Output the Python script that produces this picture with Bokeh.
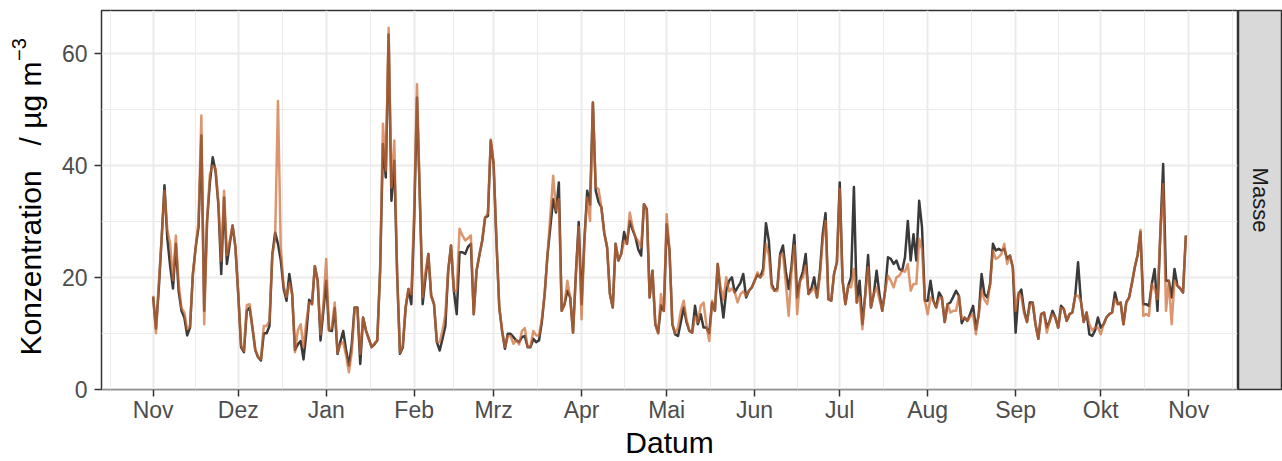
import numpy as np
import pandas as pd
from bokeh.plotting import figure
from bokeh.models import ColumnDataSource, FixedTicker, Range1d
from bokeh.layouts import row
from bokeh.core.properties import value
from bokeh.embed import file_html
from bokeh.resources import INLINE

# Daily mass concentrations (µg m^-3), Nov 2017 - Oct 2018, one list per month.
ref_nov = [16.5, 10.8, 18, 27, 36.5, 27, 22, 18, 26, 17.5, 14, 12.8, 9.6, 11, 20.5, 25.4, 29, 45.4, 14, 30,
           37, 41.5, 39, 33, 20.6, 34.3, 22.4, 26, 29.3, 25.4]
ref_dez = [17, 7.5, 6.6, 14, 14.6, 11, 7, 5.7, 5.1, 10, 10, 11.3, 24, 28, 26, 23, 18, 15.8, 20.6, 17,
           7, 8, 8.6, 5.3, 10, 16, 15.2, 22, 19.4, 8.7, 14]
ref_jan = [19.4, 10.5, 10.4, 14.5, 6.3, 8.5, 10.4, 7, 4.2, 8, 14.6, 14.6, 4.5, 12.8, 10.5, 9, 7.5, 8, 8.7, 21.2,
           43.9, 37.9, 63.5, 33.7, 40.9, 20.6, 6.3, 7.5, 14.6, 17.9, 15.2]
ref_feb = [30, 52.2, 34.3, 15.2, 20, 24.2, 16.7, 15.2, 8.4, 6.9, 9, 11.3, 21.2, 25.7, 17.6, 13.4, 24.5, 24.5, 24.2, 25.5,
           26, 13.4, 21.2, 24, 26.6, 30.7, 31, 44.5]
ref_mrz = [40.3, 26.6, 14.6, 10.4, 7.2, 9.9, 9.9, 9.3, 8.7, 8.4, 9.3, 9.5, 7.5, 7.5, 9.0, 8.4, 8.7, 12, 17, 24,
           29, 34, 31.6, 37, 14, 15.2, 17.6, 16.4, 10.1, 20.6, 29.9]
ref_apr = [15.2, 26.6, 35.5, 33, 51.3, 35.5, 33.5, 32.5, 28, 25.4, 17, 14.6, 26, 23, 24.2, 28.1, 26, 30.1, 28.5, 27.2,
           25, 23.9, 33.1, 32.2, 16.4, 21.2, 11.6, 10.1, 15, 14]
ref_mai = [29.5, 24.8, 11.6, 9.8, 9.5, 12, 14.6, 12, 10.4, 10.1, 14.9, 11.6, 13.4, 11, 11, 10, 15.5, 14, 22.4, 17,
           12.8, 17.6, 19.4, 20, 17.3, 18.2, 19, 20.6, 16.4, 17.6, 18.2]
ref_jun = [19.4, 20.5, 20, 21.5, 29.7, 26.6, 18.8, 17.6, 18, 24.2, 25.7, 21, 17.9, 22, 27.6, 16.4, 19.4, 21, 24.2, 17,
           18, 20, 16.4, 21, 27.7, 31.5, 16.1, 15.8, 20.6, 22.7]
ref_jul = [37, 19.4, 15.2, 18.5, 20, 36.2, 15.5, 19.4, 11.6, 17, 24, 14.6, 17, 21.2, 17, 14, 17.6, 23.6, 23.3, 22.4,
           23, 21.5, 21.2, 23.6, 30.1, 23, 27.7, 23, 33.7, 29, 15.8]
ref_aug = [15.8, 19.4, 15.8, 14.6, 17.3, 16.4, 12, 15.2, 15.5, 16.5, 17.6, 16.7, 11.8, 12.8, 12.2, 13.5, 14.9, 10.7,
           13.4, 20.6, 17, 16.4, 18.8, 26, 24.8, 25.1, 24.8, 25.1, 23.3, 23.9, 21.8]
ref_sep = [10.1, 17, 17.8, 14, 12, 15.5, 15.5, 11.6, 9, 13.4, 13.7, 11, 12.2, 14, 12.8, 11, 14.9, 14.3, 12.2, 13.4,
           13.7, 16.7, 22.7, 15.8, 12, 13.7, 9.8, 9.5, 10.5, 12.8]
ref_okt = [11, 11.6, 12.8, 13.4, 13.7, 17.3, 15.2, 15.5, 11.6, 15.5, 16.4, 19, 21.8, 24, 28.1, 15.2, 15.2, 14.9, 18.8,
           21.5, 14, 27.8, 40.3, 19.4, 19.4, 16.4, 21.5, 18.5, 18, 17.3, 27.5]

alt_nov = [16.7, 10.0, 19, 27, 35.5, 28.5, 26, 19.5, 27.5, 18.8, 14.5, 13.7, 10.7, 11.2, 20.6, 25.4, 30, 49, 11.6, 30,
           38.5, 40, 39.5, 33.5, 23, 35.5, 24, 26.5, 29.3, 25.4]
alt_dez = [17, 7.8, 6.8, 15, 15.2, 11, 7, 5.8, 5.3, 11.3, 11.3, 12.2, 24, 27, 51.6, 25, 18.5, 16.5, 19, 17,
           6.6, 10.5, 11.6, 7.5, 12, 15.5, 15.2, 22, 19.4, 9.8, 15]
alt_jan = [23.3, 10.5, 11, 15.5, 6.5, 8, 8.4, 6, 3.0, 6.5, 14.6, 14.5, 6.3, 12.8, 10.5, 9, 7.5, 8.2, 8.7, 21.2,
           47.5, 39.1, 64.7, 36.1, 44.5, 20.6, 6.5, 7.8, 14.6, 17.9, 17]
alt_feb = [32, 54.6, 34.3, 16.4, 21, 24.2, 16.7, 15.2, 8.4, 8.4, 10.5, 13.4, 21.2, 25.7, 17.6, 17.6, 28.7, 27.5, 26.6,
           27, 27.5, 13.4, 21.2, 24, 26.6, 30.7, 31.5, 44.7]
alt_mrz = [40.5, 26.6, 14.6, 10.4, 7.5, 9.5, 9.5, 8.1, 8.8, 8.0, 10.4, 10.9, 7.5, 7.6, 10.4, 9.6, 9.6, 12.5, 17, 24,
           31, 38.2, 32, 34, 14, 15.2, 19.4, 16.4, 10.1, 20.6, 29]
alt_apr = [12.5, 26.6, 34.3, 30.1, 51.3, 36.1, 35.8, 32.5, 28, 25.4, 17, 14.6, 26, 23, 24.2, 26.6, 26, 31.6, 29, 27.2,
           26.5, 25.4, 33.1, 32.2, 16.4, 21.2, 11.6, 9.9, 17, 14]
alt_mai = [31.3, 24.8, 11.6, 10, 11, 14, 15.8, 12.5, 10.4, 10.1, 13, 12, 14.9, 15.5, 11.5, 8.6, 15.8, 14, 22.4, 18.2,
           16, 20, 17.5, 18, 17.3, 15.5, 17, 17.5, 16.7, 17.6, 18.2]
alt_jun = [19.4, 20.9, 20, 20.5, 26, 24, 18.2, 17.6, 17.5, 23.9, 24.2, 19, 13.1, 21, 25.7, 13.4, 19.4, 20, 22.1, 17,
           17.5, 18.2, 16.4, 20, 26.6, 30.1, 16.1, 15.8, 20.6, 22.7]
alt_jul = [35.8, 19.4, 15.2, 18.5, 18.2, 21.5, 15.5, 16.4, 10.7, 17, 21.8, 14.6, 17, 18.2, 16, 14, 17.6, 20.3, 19.4,
           18.2, 20, 20.3, 21.2, 21, 22.4, 17.6, 18.8, 18.8, 26.9, 25, 15.8]
alt_aug = [13.4, 16.4, 15.8, 14.6, 16.1, 16.4, 12, 15.2, 13.7, 14, 14, 16.7, 12.5, 12.8, 12.2, 13, 13.4, 9.8, 13.4,
           17.6, 16, 15.2, 18.8, 24.8, 23.3, 23.6, 24.2, 26, 22.4, 23.9, 21.8]
alt_sep = [14, 17.3, 16.5, 13.5, 12, 15, 15.5, 11.6, 9, 13.4, 13.7, 10.1, 12.2, 13.4, 12.8, 11, 14.5, 14.3, 12.2, 13.4,
           13.7, 16.7, 16.7, 15.8, 12, 13.7, 11.6, 10.5, 11, 11]
alt_okt = [9.8, 11.6, 12.8, 13.4, 13.7, 16.1, 15.2, 15.5, 11.6, 15.5, 16.4, 19, 21.8, 24, 28.5, 13.1, 13.4, 13.1, 18.8,
           17.9, 16.1, 27.8, 36.7, 14, 19.4, 11.6, 19.4, 18.5, 18, 17.3, 27.5]

month_labels = ["Nov", "Dez", "Jan", "Feb", "Mrz", "Apr", "Mai", "Jun", "Jul", "Aug", "Sep", "Okt", "Nov"]
y_ticks = [0, 20, 40, 60]
y_minor = [10, 30, 50]
facet = ["Masse"]
x_title = "Datum"
NBSP = "\u00a0"
y_title = ["Konzentration" + NBSP * 3 + "/" + NBSP + "µg" + NBSP + "m"]
y_title_sup = ["\u22123"]

ref = (ref_nov + ref_dez + ref_jan + ref_feb + ref_mrz + ref_apr + ref_mai + ref_jun +
       ref_jul + ref_aug + ref_sep + ref_okt)
alt = (alt_nov + alt_dez + alt_jan + alt_feb + alt_mrz + alt_apr + alt_mai + alt_jun +
       alt_jul + alt_aug + alt_sep + alt_okt)

dates = pd.date_range("2017-11-01", periods=len(ref), freq="D")
src = ColumnDataSource(dict(datum=dates, ref=ref, alt=alt))


def to_ms(ts):
    return (pd.Timestamp(ts) - pd.Timestamp("1970-01-01")) / pd.Timedelta("1ms")


month_starts = pd.date_range("2017-11-01", periods=len(month_labels), freq="MS")
month_ms = [to_ms(t) for t in month_starts]
ext = [month_ms[0] - (month_ms[1] - month_ms[0])] + month_ms + [month_ms[-1] + (month_ms[-1] - month_ms[-2])]
minor_ms = [(a + b) / 2 for a, b in zip(ext[:-1], ext[1:])]

# 5 % expansion of both ranges
x_lo, x_hi = to_ms(dates[0]), to_ms(dates[-1])
x_pad = 0.05 * (x_hi - x_lo)
all_vals = np.array(ref + alt)
y_lo, y_hi = all_vals.min(), all_vals.max()
y_pad = 0.05 * (y_hi - y_lo)

FONT = "Liberation Sans"
BORDER = "#333333"
GRID = "#EBEBEB"
H = 461
TOP, BOTTOM = 10, 72

# y-axis title column (title plus superscript exponent); its frame shares the
# panel's vertical extent, and its y range is expressed as canvas pixels from the bottom
t = figure(width=52, height=H, output_backend="svg", toolbar_location=None,
           x_range=Range1d(0, 52), y_range=Range1d(BOTTOM, H - TOP),
           x_axis_location=None, y_axis_location=None,
           min_border_left=0, min_border_right=0, min_border_top=TOP, min_border_bottom=BOTTOM)
t.grid.visible = False
t.outline_line_color = None
t.background_fill_color = "white"
t.border_fill_color = "white"
t.text(x=[30], y=[H - 208], text=y_title, angle=np.pi / 2, text_align="center", text_baseline="middle",
       text_font=value(FONT), text_font_size="30px", text_color="black")
t.text(x=[18], y=[H - 49], text=y_title_sup, angle=np.pi / 2, text_align="center", text_baseline="middle",
       text_font=value(FONT), text_font_size="20px", text_color="black")

p = figure(width=1186, height=H, x_axis_type="datetime", output_backend="svg", toolbar_location=None,
           x_range=Range1d(x_lo - x_pad, x_hi + x_pad), y_range=Range1d(y_lo - y_pad, y_hi + y_pad),
           min_border_left=49, min_border_right=1, min_border_top=TOP, min_border_bottom=BOTTOM)
p.background_fill_color = "white"
p.border_fill_color = "white"
p.outline_line_color = BORDER
p.outline_line_width = 1.5

xticker = FixedTicker(ticks=month_ms, minor_ticks=minor_ms)
yticker = FixedTicker(ticks=y_ticks, minor_ticks=y_minor)
p.xaxis[0].ticker = xticker
p.yaxis[0].ticker = yticker
p.xgrid[0].ticker = xticker
p.ygrid[0].ticker = yticker
p.xaxis[0].major_label_overrides = {m: lab for m, lab in zip(month_ms, month_labels)}

for g in (p.xgrid[0], p.ygrid[0]):
    g.grid_line_color = GRID
    g.grid_line_width = 2
    g.minor_grid_line_color = GRID
    g.minor_grid_line_width = 1

for ax in (p.xaxis[0], p.yaxis[0]):
    ax.axis_line_color = None
    ax.major_tick_line_color = BORDER
    ax.major_tick_line_width = 1.5
    ax.major_tick_out = 7
    ax.major_tick_in = 0
    ax.minor_tick_line_color = None
    ax.major_label_text_font = FONT
    ax.major_label_text_font_size = "23px"
    ax.major_label_text_color = "#4D4D4D"
    ax.axis_label_text_font = FONT
    ax.axis_label_text_font_size = "30px"
    ax.axis_label_text_font_style = "normal"
    ax.axis_label_text_color = "black"

p.xaxis[0].axis_label = x_title
p.xaxis[0].major_label_standoff = 0
p.xaxis[0].axis_label_standoff = 0
p.yaxis[0].major_label_standoff = 7

p.line("datum", "ref", source=src, line_color="#3A3A3A", line_width=2.5, line_join="round")
p.line("datum", "alt", source=src, line_color="#CD6A32", line_alpha=0.7, line_width=2.5, line_join="round")

# facet strip on the right
s = figure(width=44, height=H, output_backend="svg", toolbar_location=None,
           x_range=Range1d(0, 1), y_range=Range1d(0, 1), x_axis_location=None, y_axis_location=None,
           min_border_left=0, min_border_right=0, min_border_top=TOP, min_border_bottom=BOTTOM)
s.grid.visible = False
s.background_fill_color = "#D9D9D9"
s.border_fill_color = "white"
s.outline_line_color = BORDER
s.outline_line_width = 1.5
s.text(x=[0.5], y=[0.5], text=facet, angle=-np.pi / 2, text_align="center", text_baseline="middle",
       text_font=value(FONT), text_font_size="22px", text_color="#1A1A1A")

layout = row(t, p, s, spacing=0)
open("out.html", "w").write(file_html(layout, INLINE))
